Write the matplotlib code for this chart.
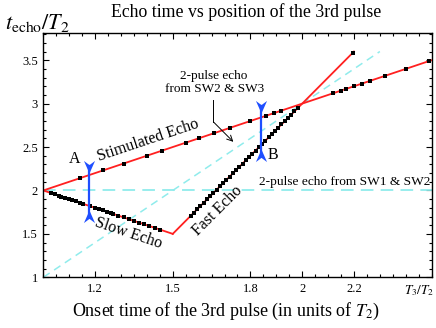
import matplotlib
matplotlib.use("Agg")
import matplotlib.pyplot as plt
from matplotlib.path import Path
from matplotlib.ticker import MultipleLocator, FixedLocator

plt.rcParams['font.family'] = ['Liberation Serif', 'DejaVu Serif']
plt.rcParams['mathtext.fontset'] = 'stix'

# theory lines (T3/T2 -> t_echo/T2)
stim_x = [1.0, 2.5]
stim_y = [2.0, 3.5]
slow_x = [1.0, 1.5]
slow_y = [2.0, 1.5]
fast_x = [1.5, 2.2]
fast_y = [1.5, 3.6]
sw12_x = [1.0, 2.5]
sw12_y = [2.0, 2.0]
sw23_x = [1.0, 2.3]
sw23_y = [1.0, 3.6]

# measured points
stim_pts_x = [1.14, 1.23, 1.31, 1.40, 1.46, 1.55, 1.60, 1.66, 1.72, 1.80, 1.86, 1.89,
              1.92, 2.12, 2.15, 2.17, 2.20, 2.23, 2.26, 2.32, 2.40, 2.49]
stim_pts_y = [2.14, 2.23, 2.31, 2.40, 2.46, 2.55, 2.60, 2.66, 2.72, 2.80, 2.86, 2.89,
              2.92, 3.12, 3.15, 3.17, 3.20, 3.23, 3.26, 3.32, 3.40, 3.49]
slow_pts_x = [1.03, 1.045, 1.06, 1.07, 1.085, 1.10, 1.11, 1.125, 1.14, 1.155, 1.18,
              1.20, 1.215, 1.23, 1.245, 1.26, 1.27, 1.29, 1.31, 1.33, 1.35, 1.37,
              1.39, 1.41, 1.43, 1.45]
slow_pts_y = [1.97, 1.955, 1.94, 1.93, 1.915, 1.90, 1.89, 1.875, 1.86, 1.845, 1.82,
              1.80, 1.785, 1.77, 1.755, 1.74, 1.73, 1.71, 1.69, 1.67, 1.65, 1.63,
              1.61, 1.59, 1.57, 1.55]
fast_pts_x = [1.57, 1.582, 1.595, 1.607, 1.62, 1.632, 1.645, 1.657, 1.67, 1.682,
              1.695, 1.707, 1.72, 1.732, 1.745, 1.757, 1.77, 1.782, 1.795, 1.807,
              1.82, 1.832, 1.845, 1.857, 1.87, 1.882, 1.895, 1.907, 1.92, 1.932,
              1.945, 1.957, 1.97, 1.985, 2.195]
fast_pts_y = [1.71, 1.746, 1.785, 1.821, 1.86, 1.896, 1.935, 1.971, 2.01, 2.046,
              2.085, 2.121, 2.16, 2.196, 2.235, 2.271, 2.31, 2.346, 2.385, 2.421,
              2.46, 2.496, 2.535, 2.571, 2.61, 2.646, 2.685, 2.721, 2.76, 2.796,
              2.835, 2.871, 2.91, 2.955, 3.585]

# markers A and B: (x, y_top, y_bottom)
A_pos = (1.178, 2.28, 1.70)
B_pos = (1.84, 2.97, 2.40)

red = '#ff2020'
cyan = '#90ecec'
blue = '#1f4fff'

fig = plt.figure(figsize=(4.36, 3.28), dpi=100)
ax = fig.add_axes([0.0993, 0.1546, 0.8907, 0.7439])

ax.plot(sw12_x, sw12_y, color=cyan, lw=1.3, dashes=(7, 4))
ax.plot(sw23_x, sw23_y, color=cyan, lw=1.1, dashes=(5, 3.5))
ax.plot(stim_x, stim_y, color=red, lw=1.3)
ax.plot(slow_x, slow_y, color=red, lw=1.3)
ax.plot(fast_x, fast_y, color=red, lw=1.3)
ax.plot(slow_x[-1:] + fast_x[:1], slow_y[-1:] + fast_y[:1], color=red, lw=1.3)
for px, py in [(stim_pts_x, stim_pts_y), (slow_pts_x, slow_pts_y), (fast_pts_x, fast_pts_y)]:
    ax.plot(px, py, ls='none', marker='s', ms=2.2, mew=0, color='black')

# notched arrowheads
down_head = Path([(0, -1), (0.8, 0.8), (0, 0.2), (-0.8, 0.8), (0, -1)],
                 [Path.MOVETO, Path.LINETO, Path.LINETO, Path.LINETO, Path.CLOSEPOLY])
up_head = Path([(0, 1), (0.8, -0.8), (0, -0.2), (-0.8, -0.8), (0, 1)],
               [Path.MOVETO, Path.LINETO, Path.LINETO, Path.LINETO, Path.CLOSEPOLY])
for (bx, ytop, ybot), lab, lpos in [(A_pos, 'A', (1.12, 2.36)), (B_pos, 'B', (1.885, 2.41))]:
    ax.plot([bx, bx], [ytop, ybot], color=blue, lw=1.6)
    ax.plot([bx], [ytop], marker=down_head, ms=10, color=blue, mew=0)
    ax.plot([bx], [ybot], marker=up_head, ms=10, color=blue, mew=0)
    ax.text(lpos[0], lpos[1], lab, fontsize=11.5, ha='center', va='center')

ax.text(1.405, 2.58, 'Stimulated Echo', rotation=18.5, fontsize=11.5,
        ha='center', va='center', rotation_mode='anchor')
ax.text(1.33, 1.51, 'Slow Echo', rotation=-18.5, fontsize=11.5,
        ha='center', va='center', rotation_mode='anchor')
ax.text(1.675, 1.77, 'Fast Echo', rotation=45, fontsize=11.5,
        ha='center', va='center', rotation_mode='anchor')
ax.text(1.66, 3.24, '2-pulse echo\nfrom SW2 & SW3', fontsize=9.5, ha='center',
        va='center', linespacing=1.1)
ax.plot([1.657, 1.657], [3.04, 2.79], color='black', lw=0.7)
ax.annotate('', xy=(1.734, 2.56), xytext=(1.657, 2.79),
            arrowprops=dict(arrowstyle='->', lw=0.7, color='black', shrinkA=0, shrinkB=0))
ax.text(2.165, 2.10, '2-pulse echo from SW1 & SW2', fontsize=9.6, ha='center', va='center')

ax.set_xlim(1.0, 2.5)
ax.set_ylim(1.0, 3.81)
ax.xaxis.set_major_locator(FixedLocator([1.2, 1.5, 1.8, 2.0, 2.2]))
ax.xaxis.set_minor_locator(MultipleLocator(0.05))
ax.set_xticklabels(['1.2', '1.5', '1.8', '2', '2.2'])
ax.yaxis.set_major_locator(FixedLocator([1, 1.5, 2, 2.5, 3, 3.5]))
ax.yaxis.set_minor_locator(MultipleLocator(0.1))
ax.set_yticklabels(['1', '1.5', '2', '2.5', '3', '3.5'])
ax.tick_params(which='both', direction='in', top=True, right=True, labelsize=9, width=0.8)
ax.tick_params(which='major', length=4, pad=4)
ax.tick_params(which='minor', length=2)
for s in ax.spines.values():
    s.set_linewidth(1.0)

fig.text(0.564, 0.963, 'Echo time vs position of the 3rd pulse', fontsize=12.8,
         ha='center', va='center')
fig.text(0.012, 0.93, r'$t_{\rm echo}/T_2$', fontsize=16, ha='left', va='center')
fig.text(0.517, 0.05, r'Onset time of the 3rd pulse (in units of $T_2$)', fontsize=13,
         ha='center', va='center')
fig.text(0.96, 0.115, r'$T_3/T_2$', fontsize=9.5, ha='center', va='center')

fig.savefig('out.png', dpi=100)
